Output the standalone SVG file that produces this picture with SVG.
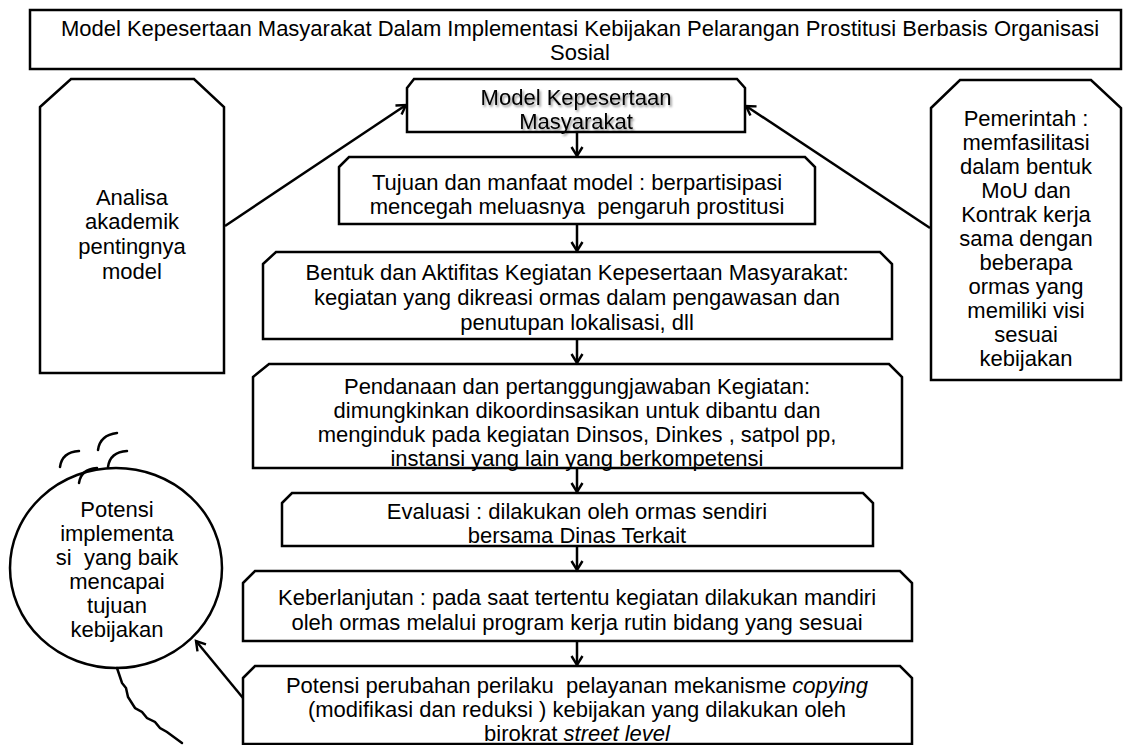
<svg xmlns="http://www.w3.org/2000/svg" width="1123" height="745" viewBox="0 0 1123 745">
<style>
.shape{fill:#fff;stroke:#000;stroke-width:2.5;stroke-linejoin:miter}
.t{font-family:"Liberation Sans",Arial,sans-serif;font-size:22px;fill:#000;text-anchor:middle;white-space:pre}
.conn{fill:none;stroke:#000;stroke-width:2.5}
.deco{fill:none;stroke:#000;stroke-width:2.5;stroke-linecap:round}
</style>
<defs>
<marker id="arr" markerUnits="userSpaceOnUse" markerWidth="14" markerHeight="14" refX="11" refY="7" orient="auto">
<path d="M2,1.5 L11,7 L2,12.5" fill="none" stroke="#000" stroke-width="2.4"/>
</marker>
<filter id="sh" x="-10%" y="-30%" width="130%" height="160%">
<feDropShadow dx="1.5" dy="2" stdDeviation="1.2" flood-color="#000" flood-opacity="0.45"/>
</filter>
</defs>
<rect width="1123" height="745" fill="#fff"/>

<g id="title">
<rect class="shape" x="30" y="10" width="1091" height="59"/>
<text class="t" x="580" y="36">Model Kepesertaan Masyarakat Dalam Implementasi Kebijakan Pelarangan Prostitusi Berbasis Organisasi</text>
<text class="t" x="580" y="60">Sosial</text>
</g>

<g id="analisa">
<path class="shape" d="M40,107 L71,79 L194,79 L224,107 L224,373 L40,373 Z"/>
<text class="t" x="132" y="205">Analisa</text>
<text class="t" x="132" y="229">akademik</text>
<text class="t" x="132" y="254">pentingnya</text>
<text class="t" x="132" y="279">model</text>
</g>

<g id="pemerintah">
<path class="shape" d="M931,108 L960,80 L1091,80 L1121,108 L1121,380 L931,380 Z"/>
<text class="t" x="1026" y="126">Pemerintah :</text>
<text class="t" x="1026" y="150">memfasilitasi</text>
<text class="t" x="1026" y="174">dalam bentuk</text>
<text class="t" x="1026" y="198">MoU dan</text>
<text class="t" x="1026" y="222">Kontrak kerja</text>
<text class="t" x="1026" y="246">sama dengan</text>
<text class="t" x="1026" y="270">beberapa</text>
<text class="t" x="1026" y="294">ormas yang</text>
<text class="t" x="1026" y="318">memiliki visi</text>
<text class="t" x="1026" y="342">sesuai</text>
<text class="t" x="1026" y="366">kebijakan</text>
</g>

<g id="model">
<path class="shape" d="M407,88 L414,79 L737,79 L745,88 L745,132 L407,132 Z"/>
<g filter="url(#sh)">
<text class="t" x="576" y="105">Model Kepesertaan</text>
<text class="t" x="576" y="129">Masyarakat</text>
</g>
</g>

<g id="tujuan">
<path class="shape" d="M339,167 L349,157 L805,157 L815,167 L815,224 L339,224 Z"/>
<text class="t" x="577" y="190">Tujuan dan manfaat model : berpartisipasi</text>
<text class="t" x="577" y="214">mencegah meluasnya  pengaruh prostitusi</text>
</g>

<g id="bentuk">
<path class="shape" d="M263,264 L276,252 L880,252 L892,264 L892,339 L263,339 Z"/>
<text class="t" x="577" y="280">Bentuk dan Aktifitas Kegiatan Kepesertaan Masyarakat:</text>
<text class="t" x="577" y="305">kegiatan yang dikreasi ormas dalam pengawasan dan</text>
<text class="t" x="577" y="330">penutupan lokalisasi, dll</text>
</g>

<g id="pendanaan">
<path class="shape" d="M253,377 L269,364 L889,364 L902,377 L902,468 L253,468 Z"/>
<text class="t" x="577" y="394">Pendanaan dan pertanggungjawaban Kegiatan:</text>
<text class="t" x="577" y="418">dimungkinkan dikoordinsasikan untuk dibantu dan</text>
<text class="t" x="577" y="442">menginduk pada kegiatan Dinsos, Dinkes , satpol pp,</text>
<text class="t" x="577" y="466">instansi yang lain yang berkompetensi</text>
</g>

<g id="evaluasi">
<path class="shape" d="M282,503 L292,493 L863,493 L873,503 L873,546 L282,546 Z"/>
<text class="t" x="577" y="519">Evaluasi : dilakukan oleh ormas sendiri</text>
<text class="t" x="577" y="543">bersama Dinas Terkait</text>
</g>

<g id="keberlanjutan">
<path class="shape" d="M243,583 L255,571 L900,571 L912,583 L912,641 L243,641 Z"/>
<text class="t" x="577" y="605">Keberlanjutan : pada saat tertentu kegiatan dilakukan mandiri</text>
<text class="t" x="577" y="630">oleh ormas melalui program kerja rutin bidang yang sesuai</text>
</g>

<g id="potensi-perubahan">
<path class="shape" d="M243,678 L255,666 L900,666 L912,678 L912,744 L243,744 Z"/>
<text class="t" x="577" y="693">Potensi perubahan perilaku  pelayanan mekanisme <tspan font-style="italic">copying</tspan></text>
<text class="t" x="577" y="717">(modifikasi dan reduksi ) kebijakan yang dilakukan oleh</text>
<text class="t" x="577" y="741">birokrat <tspan font-style="italic">street level</tspan></text>
</g>

<g id="potensi-implementasi">
<ellipse class="shape" cx="116" cy="568" rx="106" ry="100"/>
<text class="t" x="117" y="517">Potensi</text>
<text class="t" x="117" y="541">implementa</text>
<text class="t" x="117" y="565">si  yang baik</text>
<text class="t" x="117" y="589">mencapai</text>
<text class="t" x="117" y="613">tujuan</text>
<text class="t" x="117" y="637">kebijakan</text>
<path class="deco" d="M60,467 Q62,452 79,451"/>
<path class="deco" d="M98,450 Q100,435 117,433"/>
<path class="deco" d="M108,467 Q110,452 127,451"/>
<path class="deco" d="M79,483 Q81,469 97,468"/>
<polyline class="deco" points="117,668 122,683 126,688 128,697 135,708 142,712 147,718 155,722 160,728 167,732 182,743"/>
</g>

<g id="connectors">
<line class="conn" x1="225" y1="226" x2="406" y2="105" marker-end="url(#arr)"/>
<line class="conn" x1="930" y1="228" x2="746" y2="106" marker-end="url(#arr)"/>
<line class="conn" x1="577" y1="132" x2="577" y2="156" marker-end="url(#arr)"/>
<line class="conn" x1="577" y1="224" x2="577" y2="251" marker-end="url(#arr)"/>
<line class="conn" x1="577" y1="339" x2="577" y2="363" marker-end="url(#arr)"/>
<line class="conn" x1="577" y1="468" x2="577" y2="492" marker-end="url(#arr)"/>
<line class="conn" x1="577" y1="546" x2="577" y2="570" marker-end="url(#arr)"/>
<line class="conn" x1="577" y1="641" x2="577" y2="665" marker-end="url(#arr)"/>
<line class="conn" x1="243" y1="698" x2="196" y2="641" marker-end="url(#arr)"/>
</g>
</svg>
